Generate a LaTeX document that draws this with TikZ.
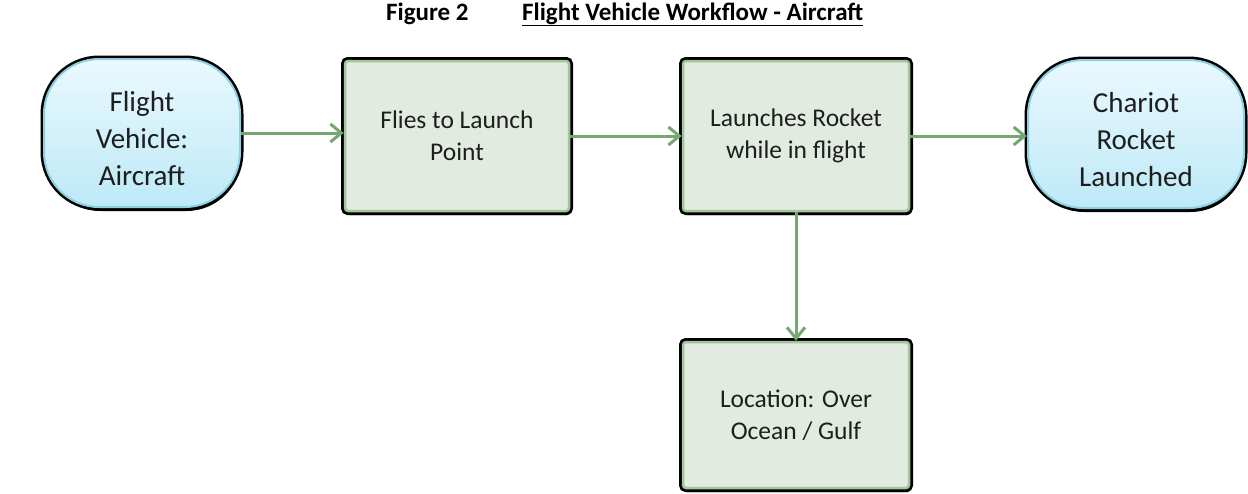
\documentclass[tikz,border=0pt]{standalone}
\usepackage{fontspec}
\setmainfont{Carlito}
\usetikzlibrary{arrows.meta,shadows}
\definecolor{boxfill}{HTML}{E1EBE0}
\definecolor{boxline}{HTML}{A3C49D}
\definecolor{termtop}{HTML}{EAF9FE}
\definecolor{termbot}{HTML}{BDE9F7}
\definecolor{termline}{HTML}{8FCFE0}
\definecolor{arrowc}{HTML}{76A672}
\definecolor{textc}{HTML}{1E1E1E}
\newsavebox{\termbox}
% three centred lines, set a little below the middle of the terminal shape
\newcommand{\termlines}[1]{%
  \sbox{\termbox}{\begin{tabular}{@{}c@{}}#1\end{tabular}}%
  \raisebox{-8pt}[\ht\termbox][\dp\termbox]{\usebox{\termbox}}}
\begin{document}
\begin{tikzpicture}[x=1pt,y=-1pt,
  darkshadow/.style={drop shadow={shadow xshift=1.5pt,shadow yshift=-4pt,fill=black,opacity=1}},
  procbox/.style={rectangle, rounded corners=3pt, darkshadow,
    preaction={draw=black,line width=8pt},
    draw=boxline, line width=2.5pt, fill=boxfill,
    minimum width=226, minimum height=150, align=center, text=textc,
    font=\fontsize{25.5}{32}\selectfont},
  terminal/.style={rectangle, rounded corners=55pt, darkshadow,
    preaction={draw=black,line width=7pt},
    draw=termline, line width=2pt, top color=termtop, bottom color=termbot,
    minimum height=148, align=center, text=textc,
    font=\fontsize{29}{37}\selectfont},
  conn/.style={draw=arrowc, line width=3pt,
    -{Straight Barb[length=11pt,width=18pt,line width=3pt]}},
  titletext/.style={font=\fontsize{25}{30}\selectfont\bfseries, text=black, inner sep=0pt}
]
\useasboundingbox (0,0) rectangle (1248,493);

% title
\node[titletext, anchor=base west] (fig) at (386,20) {Figure 2};
\node[titletext, anchor=base west] (ttl) at (522,20) {\underline{Flight Vehicle Workflow - Aircraft}};

% workflow steps
\node[terminal, minimum width=196] (fly) at (142,133) {\termlines{Flight\\Vehicle:\\Aircraft}};
\node[procbox, minimum width=224] (launchpt) at (457,136) {Flies to Launch\\Point};
\node[procbox] (launches) at (796,136) {Launches Rocket\\while in flight};
\node[terminal, minimum width=216] (chariot) at (1136,134) {\termlines{Chariot\\Rocket\\Launched}};
\node[procbox, minimum height=146] (location) at (796,415) {Location: Over\\Ocean / Gulf};

% connectors
\draw[conn] (fly.east) -- (fly.east -| launchpt.west);
\draw[conn] (launchpt.east) -- (launchpt.east -| launches.west);
\draw[conn] (launches.east) -- (launches.east -| chariot.west);
\draw[conn] (launches.south) -- (location.north);
\end{tikzpicture}
\end{document}
